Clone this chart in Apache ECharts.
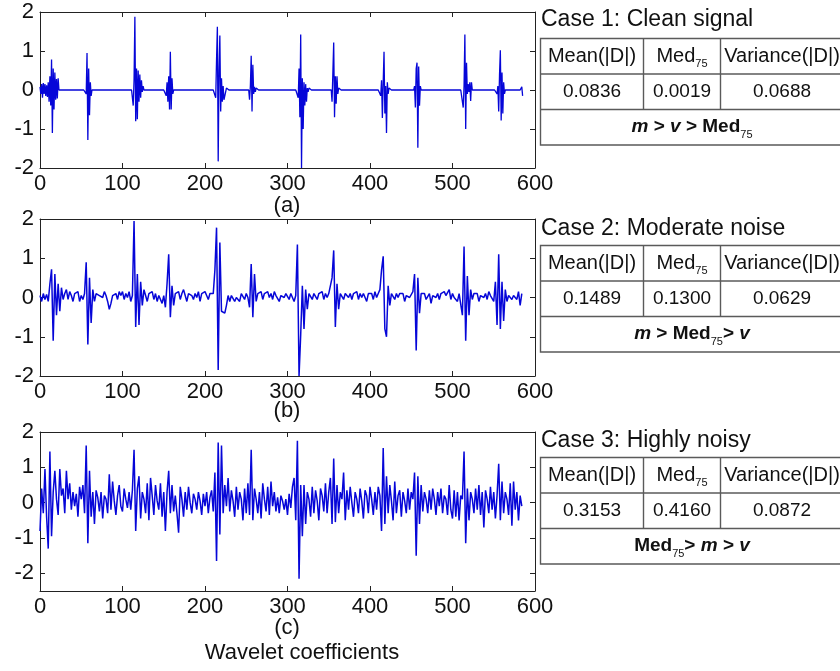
<!DOCTYPE html>
<html><head><meta charset="utf-8">
<script src="https://cdn.jsdelivr.net/npm/echarts@6/dist/echarts.min.js"></script>
<style>html,body{margin:0;padding:0;background:#fff}#c{width:840px;height:671px}</style>
</head><body><div id="c"></div>
<script>
// ---------- DATA ----------
// Panel (a): clean signal = 0 everywhere except bursts of coefficients (start index, per-index values)
const aLength = 586;
const aBurstStart = [0, 54, 112, 152, 212, 253, 312, 353, 412, 453, 512, 553, 583];
const aBurstVals = [
  [0.08,-0.1,0.15,-0.2,0.18,-0.1,0.15,-0.15,0.12,-0.18,0.2,-0.3,0.35,-0.4,0.78,-1.1,0.55,-0.5,0.45,-0.25,0.28,-0.22,0.3,0],
  [0,0.05,-0.1,0.95,-1.28,0.55,-0.65,0.2,-0.15,0],
  [0,-0.4,0.25,1.88,-0.8,0.55,-0.75,0.5,-0.3,0.4,-0.2,0.25,-0.05,0.1,0],
  [0,-0.15,0.2,-0.3,0.35,-0.5,0.98,-0.5,0.3,-0.1,0],
  [0,-0.2,0.78,1.62,-1.83,0.5,1.4,-0.55,0.3,-0.3,0.1,-0.25,-0.2,-0.25,0.05,0],
  [0,-0.25,0.1,0.88,-0.55,0.65,-0.1,0.08,-0.05,0.05,0],
  [0,-0.2,0.55,-0.7,1.42,-2.0,0.3,-1.0,0.2,-0.4,0.15,-0.3,0.05,-0.05,0.05,0],
  [0,-0.3,0.45,1.22,-0.7,0.35,-0.35,0.35,-0.1,0.05,0],
  [0,-0.15,0.25,-0.72,0.2,0.98,-0.6,0.1,-1.1,0.2,-0.1,0.05,0],
  [0,0.1,-0.45,0.55,0.7,-1.48,0.6,-0.4,0.1,0],
  [0,-0.45,0.1,1.42,-1.0,0.7,-0.1,0.15,-0.05,0.2,-0.28,0.2,0],
  [0,-0.1,0.1,-0.55,0.4,1.02,-0.78,0.45,-0.6,0.2,-0.1,0],
  [0,0.08,-0.15]
];
// Panels (b) and (c): one value every 2 coefficient indices (0..584)
const sampleStep = 2;
const bVals = [
  0.05,-0.1,0.1,-0.05,0.08,-0.1,0.35,0.72,-1.1,0.6,
  -0.45,0.35,-0.35,0.25,-0.05,0.1,0.2,-0.05,0.15,0.05,
  -0.1,0.1,0.05,0.15,-0.1,0.05,-0.05,0.1,0.9,-1.2,
  0.5,-0.65,0.2,-0.1,0.1,0.15,0.05,0.1,0.0,0.15,
  0.05,-0.1,-0.3,-0.15,0.05,0.0,0.1,-0.05,0.15,0.05,
  0.15,-0.05,0.1,0.0,0.15,-0.1,0.05,1.95,-0.75,0.6,
  -0.7,0.4,-0.2,0.2,0.05,-0.1,0.1,0.05,0.15,-0.05,
  0.1,-0.1,0.05,0.1,-0.15,0.05,-0.25,0.35,1.1,-0.5,
  0.3,-0.2,0.1,0.05,0.15,-0.05,0.1,0.2,0.05,-0.1,
  0.1,0.15,0.05,-0.05,0.1,0.0,0.15,-0.1,0.1,0.05,
  0.15,0.05,-0.05,0.1,0.05,0.1,0.7,1.78,-1.85,1.4,
  -0.35,-0.3,-0.4,-0.2,0.05,-0.1,0.05,0.1,-0.1,0.0,
  0.05,-0.1,0.1,0.05,-0.05,0.1,0.0,-0.25,0.85,-0.5,
  0.6,-0.1,0.1,0.05,0.15,-0.05,0.1,0.05,0.15,0.0,
  0.1,-0.05,0.15,0.05,0.1,-0.1,0.05,0.1,0.0,0.1,
  0.05,-0.05,0.1,0.0,-0.1,0.05,1.35,-2.0,-0.95,0.3,
  -0.8,0.2,-0.3,0.1,0.05,-0.05,0.1,0.15,-0.05,0.1,
  0.05,0.15,-0.05,0.1,0.0,0.1,0.1,0.5,1.2,-0.75,
  0.35,-0.3,0.1,0.05,-0.05,0.1,0.15,0.0,0.1,-0.05,
  0.1,0.05,0.15,-0.05,0.1,0.0,0.1,0.05,-0.1,0.1,
  0.05,0.1,-0.05,0.15,0.0,0.1,0.2,0.7,1.05,-0.8,
  -1.0,0.3,-0.2,0.1,0.05,-0.05,0.1,0.0,0.1,0.05,
  0.1,-0.1,0.05,0.1,0.0,0.05,0.15,0.6,-1.35,0.5,
  -0.4,0.1,0.05,0.1,-0.05,0.0,0.1,-0.15,0.05,0.1,
  0.0,0.1,-0.05,0.1,0.05,0.15,0.05,0.1,0.2,-0.05,
  0.1,0.0,0.05,-0.1,0.1,0.05,-0.45,1.3,-1.1,0.55,
  -0.45,0.2,-0.05,0.1,0.05,0.1,-0.1,0.05,0.1,0.0,
  0.1,-0.05,0.15,0.05,0.1,-0.1,0.4,-0.7,1.1,-0.8,
  0.4,-0.6,0.2,-0.1,0.05,0.1,-0.05,0.05,0.1,-0.05,
  0.15,-0.2,0.1
];
const cVals = [
  -0.8,0.4,-0.3,0.95,-0.4,-1.3,1.45,-0.95,0.3,0.9,
  0.1,-0.35,0.95,0.2,0.4,-0.3,0.9,0.1,0.55,-0.2,
  0.3,-0.1,0.25,-0.4,0.45,0.1,0.5,-0.3,1.62,-1.15,
  0.9,-0.4,0.3,-0.6,0.35,0.15,-0.25,0.3,-0.45,0.2,
  0.1,-0.3,0.8,-0.2,0.6,0.05,-0.35,0.2,0.5,-0.1,
  -0.25,0.4,0.1,-0.15,0.3,-0.2,0.35,1.5,-0.8,0.4,
  0.75,-0.45,0.3,0.1,-0.3,0.55,-0.5,0.7,0.2,-0.35,
  0.5,0.05,-0.2,0.55,-0.4,0.3,-0.8,0.3,0.9,-0.3,
  0.5,-0.25,0.2,-0.3,-0.85,0.45,0.1,-0.4,0.3,-0.2,
  0.45,0.0,-0.3,0.25,0.1,-0.2,0.3,0.05,-0.35,0.25,
  -0.1,0.3,-0.3,0.15,0.35,-0.25,0.85,-1.65,1.7,-0.9,
  1.62,-0.3,0.5,-0.1,0.7,-0.25,0.35,0.05,-0.4,0.45,
  -0.2,0.3,0.1,-0.5,0.4,-0.3,0.55,-0.35,1.5,-0.5,
  0.4,0.1,-0.3,0.3,-0.45,0.55,0.1,-0.25,0.45,-0.35,
  0.6,-0.1,0.3,-0.25,0.15,-0.3,0.2,0.05,-0.2,0.1,
  -0.35,0.25,-0.15,0.45,0.7,-0.5,1.75,-2.15,0.5,-0.95,
  0.5,-0.6,0.3,0.1,-0.4,0.45,-0.3,0.35,0.05,-0.5,
  0.4,0.2,-0.25,0.55,-0.3,0.3,0.7,-0.6,1.25,-0.55,
  0.5,-0.3,0.3,0.1,0.85,-0.5,0.35,-0.2,0.45,0.0,
  -0.4,0.3,0.1,-0.3,0.4,0.05,-0.45,0.35,0.2,-0.3,
  0.45,0.1,-0.35,0.3,-0.2,0.45,0.2,-0.8,1.55,-0.6,
  0.75,-0.3,0.5,0.05,-0.5,0.6,-0.3,0.2,0.35,-0.4,
  0.3,0.05,-0.3,0.4,-0.2,0.3,0.1,0.85,-1.5,0.75,
  -0.6,0.5,-0.25,0.3,0.1,-0.3,0.35,-0.2,0.4,0.1,
  -0.35,0.3,-0.1,0.4,-0.3,0.2,0.1,-0.35,0.5,-0.2,
  -0.45,0.35,-0.4,0.3,-0.5,0.2,0.1,1.45,-1.15,0.4,
  -0.5,0.3,0.1,-0.3,0.4,-0.2,0.5,-0.35,0.3,-0.7,
  0.35,0.1,-0.3,0.45,-0.2,0.3,-0.45,0.2,1.1,-0.5,
  0.6,-0.3,0.3,0.1,-0.35,0.55,-0.65,0.6,-0.2,0.3,
  -0.5,0.2,-0.1
];
const xTicks = [0, 600, 100];           // min, max, step
const yTicksAB = [-2, 2, 1];
const yRangeC = [-2.5, 2];
const yLabelsC = [-2, -1, 0, 1, 2];
const panelLabels = ['(a)', '(b)', '(c)'];
const xAxisTitle = 'Wavelet coefficients';

// table data
const caseTitles = ['Case 1: Clean signal', 'Case 2: Moderate noise', 'Case 3: Highly noisy'];
const colHeaders = ['Mean(|D|)', '{r|Med}{s|75}', 'Variance(|D|)'];
const meanVals = ['0.0836', '0.1489', '0.3153'];
const medVals = ['0.0019', '0.1300', '0.4160'];
const varVals = ['0.0688', '0.0629', '0.0872'];
const relations = [
  '{i|m}{b| > }{i|v}{b| > Med}{s|75}',
  '{i|m}{b| > Med}{s|75}{b|> }{i|v}',
  '{b|Med}{s|75}{b|> }{i|m}{b| > }{i|v}'
];

// ---------- BUILD ----------
const FONT = "'Liberation Sans', Arial, Helvetica, sans-serif";
const aFull = [];
for (let i = 0; i < aLength; i++) aFull.push(0);
aBurstStart.forEach((s, k) => aBurstVals[k].forEach((v, j) => { aFull[s + j] = v; }));
const aData = aFull.map((v, i) => [i, v]);
const bData = bVals.map((v, i) => [i * sampleStep, v]);
const cData = cVals.map((v, i) => [i * sampleStep, v]);

const grids = [
  { left: 40, top: 12, width: 495, height: 156 },
  { left: 40, top: 219, width: 495, height: 157 },
  { left: 40, top: 432, width: 495, height: 159 }
];
const frameColor = '#222';
const xAxes = [], yAxes = [];
grids.forEach((g, i) => {
  const common = {
    type: 'value', gridIndex: i, min: xTicks[0], max: xTicks[1], interval: xTicks[2],
    axisLine: { show: true, onZero: false, lineStyle: { color: frameColor, width: 1 } },
    axisTick: { show: true, inside: true, length: 5, lineStyle: { color: frameColor } },
    splitLine: { show: false }
  };
  xAxes.push(Object.assign({}, common, { position: 'bottom',
    axisLabel: { fontSize: 22, color: '#111', fontFamily: FONT, margin: 5 } }));
  xAxes.push(Object.assign({}, common, { position: 'top', axisLabel: { show: false } }));
  const yc = {
    type: 'value', gridIndex: i,
    axisLine: { show: true, onZero: false, lineStyle: { color: frameColor, width: 1 } },
    splitLine: { show: false }
  };
  let rng, tickStuff;
  if (i < 2) {
    rng = { min: yTicksAB[0], max: yTicksAB[1], interval: yTicksAB[2] };
    tickStuff = {};
  } else {
    rng = { min: yRangeC[0], max: yRangeC[1] };
    tickStuff = { customValues: yLabelsC };
  }
  yAxes.push(Object.assign({}, yc, rng, { position: 'left',
    axisTick: Object.assign({ show: true, inside: true, length: 5, lineStyle: { color: frameColor } }, tickStuff),
    axisLabel: Object.assign({ fontSize: 22, color: '#111', fontFamily: FONT, margin: 6 }, tickStuff) }));
  yAxes.push(Object.assign({}, yc, rng, { position: 'right',
    axisTick: Object.assign({ show: true, inside: true, length: 5, lineStyle: { color: frameColor } }, tickStuff),
    axisLabel: { show: false } }));
});

const lineColor = '#0606d8';
const series = [aData, bData, cData].map((d, i) => ({
  type: 'line', xAxisIndex: i * 2, yAxisIndex: i * 2, data: d,
  showSymbol: false, symbol: 'none', sampling: null, animation: false,
  lineStyle: { color: lineColor, width: i === 0 ? 1.3 : 1.5 }, clip: true
}));

// graphics: panel captions + tables
const graphic = [];
const capY = [206, 411, 628];
panelLabels.forEach((t, i) => graphic.push({
  type: 'text', x: 287, y: capY[i],
  style: { text: t, fill: '#111', font: '22px ' + FONT, align: 'center', verticalAlign: 'middle',
           textAlign: 'center', textVerticalAlign: 'middle' }
}));
graphic.push({ type: 'text', x: 302, y: 653,
  style: { text: xAxisTitle, fill: '#111', font: '22px ' + FONT, align: 'center', verticalAlign: 'middle',
           textAlign: 'center', textVerticalAlign: 'middle' } });

const tableTops = [38, 245, 457];
const titleYs = [20, 229, 441];
const TL = 540.5, TR = 852, C1 = 643.5, C2 = 720.5, RH = 35.5;
const colCenters = [(TL + C1) / 2, (C1 + C2) / 2, 782];
const bord = { stroke: '#5a5a5a', lineWidth: 1.4, fill: null };
const richBase = {
  r: { fontSize: 20, fontFamily: FONT, fill: '#111', lineHeight: 26, verticalAlign: 'middle' },
  s: { fontSize: 11, fontFamily: FONT, fill: '#111', lineHeight: 11, verticalAlign: 'bottom' },
  b: { fontSize: 19, fontFamily: FONT, fontWeight: 'bold', fill: '#111', lineHeight: 26, verticalAlign: 'middle' },
  i: { fontSize: 19, fontFamily: FONT, fontWeight: 'bold', fontStyle: 'italic', fill: '#111', lineHeight: 26, verticalAlign: 'middle' }
};
function txt(x, y, text, size, align) {
  return { type: 'text', x: x, y: y, z: 10,
    style: { text: text, fill: '#111', font: size + 'px ' + FONT, align: align, verticalAlign: 'middle',
             textAlign: align, textVerticalAlign: 'middle', rich: richBase } };
}
caseTitles.forEach((title, k) => {
  const top = tableTops[k] + 0.5;
  graphic.push(txt(541, titleYs[k], title, 23, 'left'));
  graphic.push({ type: 'rect', shape: { x: TL, y: top, width: TR - TL, height: 3 * RH }, style: bord });
  graphic.push({ type: 'line', shape: { x1: TL, y1: top + RH, x2: TR, y2: top + RH }, style: bord });
  graphic.push({ type: 'line', shape: { x1: TL, y1: top + 2 * RH, x2: TR, y2: top + 2 * RH }, style: bord });
  graphic.push({ type: 'line', shape: { x1: C1, y1: top, x2: C1, y2: top + 2 * RH }, style: bord });
  graphic.push({ type: 'line', shape: { x1: C2, y1: top, x2: C2, y2: top + 2 * RH }, style: bord });
  colHeaders.forEach((h, j) => graphic.push(txt(colCenters[j], top + RH / 2, h, 20, 'center')));
  [meanVals[k], medVals[k], varVals[k]].forEach((v, j) =>
    graphic.push(txt(colCenters[j], top + 1.5 * RH, v, 19, 'center')));
  graphic.push(txt(692, top + 2.5 * RH, relations[k], 19, 'center'));
});

const chart = echarts.init(document.getElementById('c'), null, { renderer: 'canvas' });
chart.setOption({
  animation: false,
  backgroundColor: '#fff',
  grid: grids,
  xAxis: xAxes,
  yAxis: yAxes,
  series: series,
  graphic: graphic
});
</script>
</body></html>
